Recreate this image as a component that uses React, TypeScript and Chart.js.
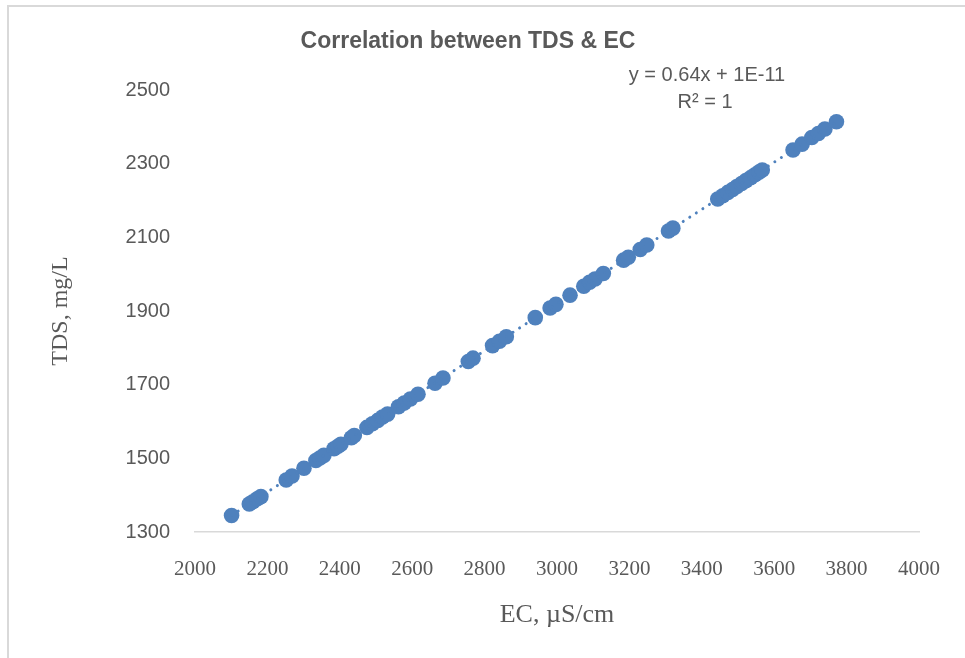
import { useEffect, useRef } from "react";
import { Chart, registerables } from "chart.js";

Chart.register(...registerables);

// EC (µS/cm) of each sample
const EC = [
  2101, 2150, 2160, 2172, 2182, 2252, 2268, 2301, 2334, 2345, 2356, 2384, 2395, 2403,
  2432, 2440, 2475, 2490, 2505, 2518, 2532, 2562, 2578, 2595, 2616, 2663, 2685, 2755,
  2768, 2822, 2841, 2860, 2940, 2981, 2997, 3036, 3074, 3090, 3105, 3128, 3184, 3197,
  3230, 3248, 3308, 3320, 3444, 3458, 3472, 3485, 3497, 3510, 3522, 3535, 3547, 3558,
  3567, 3652, 3677, 3704, 3722, 3740, 3772,
];
// TDS (mg/L) of each sample
const TDS = [
  1345, 1376, 1382, 1390, 1396, 1441, 1452, 1473, 1494, 1501, 1508, 1526, 1533, 1538,
  1556, 1562, 1584, 1594, 1603, 1612, 1620, 1640, 1650, 1661, 1674, 1704, 1718, 1763,
  1772, 1806, 1818, 1830, 1882, 1908, 1918, 1943, 1967, 1978, 1987, 2002, 2038, 2046,
  2067, 2079, 2117, 2125, 2204, 2213, 2222, 2230, 2238, 2246, 2254, 2262, 2270, 2277,
  2283, 2337, 2353, 2371, 2382, 2394, 2414,
];
// linear trendline end points
const TREND_EC = [2101, 3772];
const TREND_TDS = [1345, 2414];

const X_TICKS = [2000, 2200, 2400, 2600, 2800, 3000, 3200, 3400, 3600, 3800, 4000];
const Y_TICKS = [1300, 1500, 1700, 1900, 2100, 2300, 2500];

const TITLE = "Correlation between TDS & EC";
const EQUATION = "y = 0.64x + 1E-11";
const R2_TEXT = "R² = 1";
const X_TITLE = "EC, µS/cm";
const Y_TITLE = "TDS, mg/L";

const BLUE = "#4F81BD";
const GRAY_TEXT = "#595959";
const SANS = "'Liberation Sans', Arial, sans-serif";
const SERIF = "'Liberation Serif', 'Times New Roman', serif";

const textPlugin = {
  id: "chartTexts",
  afterDraw(chart: any) {
    const ctx = chart.ctx;
    ctx.save();
    ctx.fillStyle = GRAY_TEXT;
    ctx.textAlign = "center";
    ctx.textBaseline = "middle";
    ctx.font = `bold 23px ${SANS}`;
    ctx.fillText(TITLE, 468, 42);
    ctx.font = `20px ${SANS}`;
    ctx.fillText(EQUATION, 707, 75);
    ctx.fillText(R2_TEXT, 705, 102);
    ctx.restore();
  },
};

export default function App() {
  const canvasRef = useRef<HTMLCanvasElement | null>(null);

  useEffect(() => {
    if (!canvasRef.current) return;
    const points = EC.map((x, i) => ({ x, y: TDS[i] }));
    const trend = TREND_EC.map((x, i) => ({ x, y: TREND_TDS[i] }));
    const chart = new Chart(canvasRef.current, {
      type: "scatter",
      data: {
        datasets: [
          {
            type: "line",
            data: trend,
            borderColor: BLUE,
            borderWidth: 3,
            borderDash: [0.01, 7.8],
            borderCapStyle: "round",
            pointRadius: 0,
            fill: false,
            order: 0,
          } as any,
          {
            data: points,
            backgroundColor: BLUE,
            borderColor: BLUE,
            borderWidth: 0,
            pointRadius: 7.8,
            pointHoverRadius: 7.8,
            order: 1,
          },
        ],
      },
      options: {
        animation: false,
        responsive: true,
        maintainAspectRatio: false,
        layout: { padding: { top: 90, right: 40, left: 0, bottom: 0 } },
        plugins: {
          legend: { display: false },
          tooltip: { enabled: false },
          title: { display: false },
        },
        scales: {
          x: {
            type: "linear",
            min: 2000,
            max: 4000,
            afterBuildTicks: (scale: any) => {
              scale.ticks = X_TICKS.map((v) => ({ value: v }));
            },
            afterFit: (scale: any) => {
              scale.height = 126;
            },
            grid: { display: false, drawTicks: false },
            border: { display: true, color: "#D9D9D9", width: 1.5 },
            ticks: {
              padding: 25,
              color: GRAY_TEXT,
              font: { family: SERIF, size: 21 },
              maxRotation: 0,
              callback: (v: any) => String(v),
            },
            title: {
              display: true,
              text: X_TITLE,
              color: GRAY_TEXT,
              font: { family: SERIF, size: 26 },
              padding: { top: 0, bottom: 27 },
            },
          },
          y: {
            type: "linear",
            min: 1300,
            max: 2500,
            afterBuildTicks: (scale: any) => {
              scale.ticks = Y_TICKS.map((v) => ({ value: v }));
            },
            afterFit: (scale: any) => {
              scale.width = 195;
            },
            grid: { display: false, drawTicks: false },
            border: { display: false },
            ticks: {
              padding: 25,
              color: GRAY_TEXT,
              font: { family: SANS, size: 20 },
              callback: (v: any) => String(v),
            },
            title: {
              display: true,
              text: Y_TITLE,
              color: GRAY_TEXT,
              font: { family: SERIF, size: 24 },
              padding: { top: 46, bottom: 0 },
            },
          },
        },
      },
      plugins: [textPlugin],
    });
    return () => chart.destroy();
  }, []);

  return (
    <div
      style={{
        position: "fixed",
        left: 0,
        top: 0,
        width: 965,
        height: 658,
        overflow: "hidden",
        background: "#ffffff",
      }}
    >
      <div
        style={{
          position: "absolute",
          left: 7,
          top: 5,
          right: -10,
          bottom: -10,
          borderLeft: "2px solid #D9D9D9",
          borderTop: "2px solid #D9D9D9",
        }}
      />
      <canvas
        ref={canvasRef}
        style={{ position: "absolute", left: 0, top: 0, width: 965, height: 658 }}
      />
    </div>
  );
}
